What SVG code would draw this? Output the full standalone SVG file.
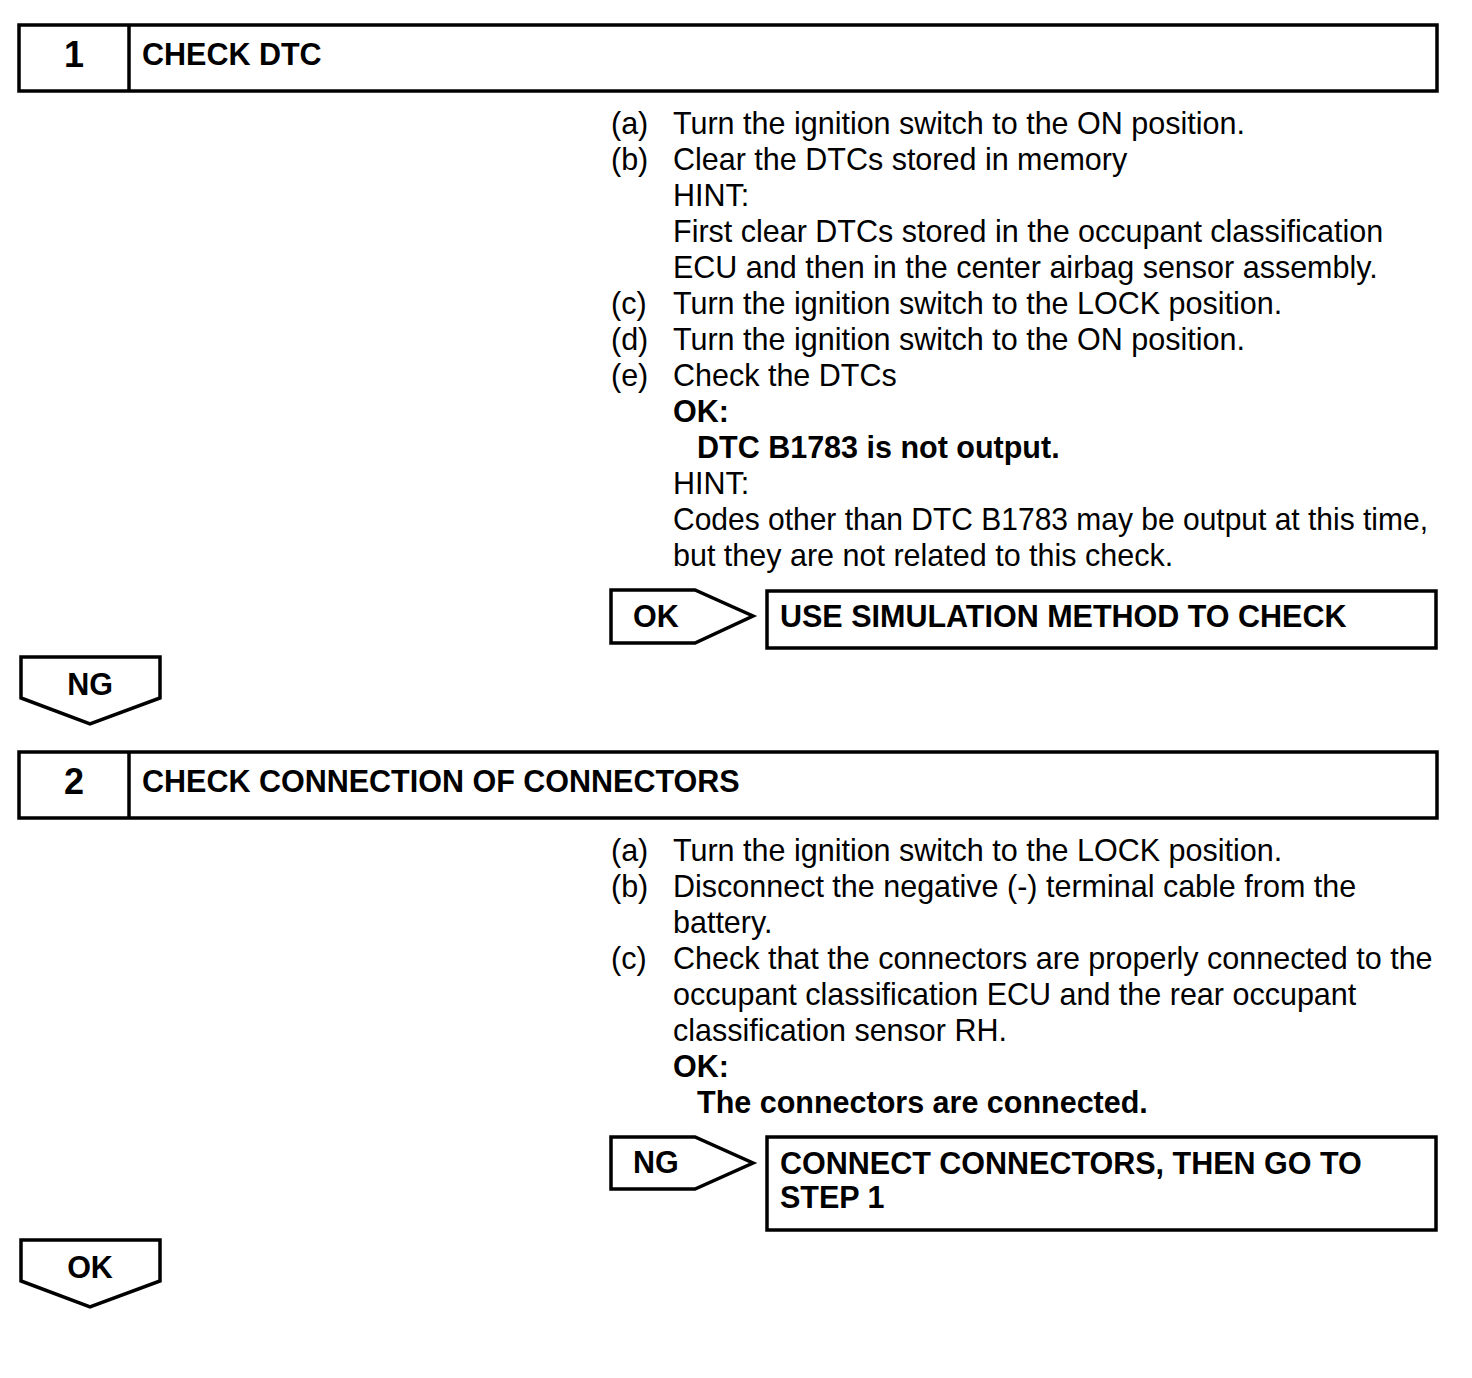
<svg xmlns="http://www.w3.org/2000/svg" width="1472" height="1378" viewBox="0 0 1472 1378">
<style>
.box{fill:#fff;stroke:#000;stroke-width:3.5}
.t{font-family:"Liberation Sans",Arial,sans-serif;font-size:30.5px;fill:#000}
.b{font-family:"Liberation Sans",Arial,sans-serif;font-size:30.5px;font-weight:bold;fill:#000}
.n{font-family:"Liberation Sans",Arial,sans-serif;font-size:36px;font-weight:bold;fill:#000;text-anchor:middle}
.c{text-anchor:middle}
</style>
<rect width="1472" height="1378" fill="#fff"/>
<g id="step1">
<rect class="box" x="19" y="25" width="1418" height="66"/>
<line x1="129" y1="25" x2="129" y2="91" stroke="#000" stroke-width="3.5"/>
<text class="n" x="74" y="67">1</text>
<text class="b" x="142" y="65">CHECK DTC</text>
</g>
<g id="step1-text">
<text class="t" x="611" y="134">(a)</text><text class="t" x="673" y="134">Turn the ignition switch to the ON position.</text>
<text class="t" x="611" y="170">(b)</text><text class="t" x="673" y="170">Clear the DTCs stored in memory</text>
<text class="t" x="673" y="206">HINT:</text>
<text class="t" x="673" y="242">First clear DTCs stored in the occupant classification</text>
<text class="t" x="673" y="278">ECU and then in the center airbag sensor assembly.</text>
<text class="t" x="611" y="314">(c)</text><text class="t" x="673" y="314">Turn the ignition switch to the LOCK position.</text>
<text class="t" x="611" y="350">(d)</text><text class="t" x="673" y="350">Turn the ignition switch to the ON position.</text>
<text class="t" x="611" y="386">(e)</text><text class="t" x="673" y="386">Check the DTCs</text>
<text class="b" x="673" y="422">OK:</text>
<text class="b" x="697" y="458">DTC B1783 is not output.</text>
<text class="t" x="673" y="494">HINT:</text>
<text class="t" x="673" y="530" textLength="755" lengthAdjust="spacingAndGlyphs">Codes other than DTC B1783 may be output at this time,</text>
<text class="t" x="673" y="566">but they are not related to this check.</text>
</g>
<g id="ok1">
<polygon class="box" points="611,590 695,590 753,616 695,643 611,643"/>
<text class="b" x="633" y="627">OK</text>
</g>
<g id="result1">
<rect class="box" x="767" y="591" width="669" height="57"/>
<text class="b" x="780" y="627">USE SIMULATION METHOD TO CHECK</text>
</g>
<g id="ng1">
<polygon class="box" points="21,657 160,657 160,698 90,724 21,698"/>
<text class="b c" x="90" y="695">NG</text>
</g>
<g id="step2">
<rect class="box" x="19" y="752" width="1418" height="66"/>
<line x1="129" y1="752" x2="129" y2="818" stroke="#000" stroke-width="3.5"/>
<text class="n" x="74" y="794">2</text>
<text class="b" x="142" y="792">CHECK CONNECTION OF CONNECTORS</text>
</g>
<g id="step2-text">
<text class="t" x="611" y="861">(a)</text><text class="t" x="673" y="861">Turn the ignition switch to the LOCK position.</text>
<text class="t" x="611" y="897">(b)</text><text class="t" x="673" y="897">Disconnect the negative (-) terminal cable from the</text>
<text class="t" x="673" y="933">battery.</text>
<text class="t" x="611" y="969">(c)</text><text class="t" x="673" y="969">Check that the connectors are properly connected to the</text>
<text class="t" x="673" y="1005">occupant classification ECU and the rear occupant</text>
<text class="t" x="673" y="1041">classification sensor RH.</text>
<text class="b" x="673" y="1077">OK:</text>
<text class="b" x="697" y="1113">The connectors are connected.</text>
</g>
<g id="ng2">
<polygon class="box" points="611,1137 695,1137 753,1163 695,1189 611,1189"/>
<text class="b" x="633" y="1173">NG</text>
</g>
<g id="result2">
<rect class="box" x="767" y="1137" width="669" height="93"/>
<text class="b" x="780" y="1174">CONNECT CONNECTORS, THEN GO TO</text>
<text class="b" x="780" y="1208">STEP 1</text>
</g>
<g id="ok2">
<polygon class="box" points="21,1240 160,1240 160,1281 90,1307 21,1281"/>
<text class="b c" x="90" y="1278">OK</text>
</g>
<g id="connectors"></g>
</svg>
